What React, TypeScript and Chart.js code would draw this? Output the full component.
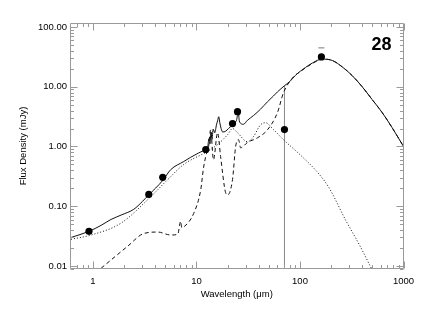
import { useEffect, useRef } from 'react';
import { Chart, registerables } from 'chart.js';

Chart.register(...registerables);

// Total model (solid)
const TOTAL_WAVE = [0.614, 0.915, 1.2, 1.49, 1.9, 2.48, 3.0, 3.46, 4.72, 5.64, 7.53, 8.79, 10.5, 12.3, 12.8, 13.2, 13.5, 13.8, 14.1, 14.5, 15.0, 15.6, 16.0, 16.4, 16.8, 17.3, 17.9, 19.1, 20.4, 22.3, 23.3, 24.3, 24.9, 25.4, 25.9, 26.7, 28.4, 31.1, 35.6, 41.5, 48.5, 55.4, 60.6, 70.8, 80, 90.3, 113, 132, 164, 205, 256, 320, 399, 498, 622, 776, 1000];
const TOTAL_FLUX = [0.030, 0.038, 0.048, 0.060, 0.072, 0.089, 0.12, 0.155, 0.27, 0.41, 0.56, 0.66, 0.78, 0.89, 0.95, 1.35, 1.1, 1.75, 1.3, 1.95, 1.7, 2.3, 2.7, 3.15, 2.5, 2.0, 1.75, 1.8, 2.0, 2.3, 2.5, 2.7, 3.3, 3.7, 2.7, 2.45, 2.35, 2.75, 3.3, 4.2, 5.6, 7.0, 8.2, 10.4, 12.3, 15.5, 21, 25, 29, 27.5, 21.5, 15.3, 10, 6.1, 3.7, 2.07, 1.0];

// Dust component (dashed)
const DUST_WAVE = [1.2, 2.17, 3.10, 4.23, 5.64, 6.59, 7.04, 7.2, 7.53, 9.40, 11.0, 11.7, 12.8, 13.1, 13.7, 14.6, 16.0, 17.1, 19.1, 20.0, 22.3, 23.9, 25.5, 26.7, 31.1, 38.9, 48.5, 60.6, 69.2, 84.5, 101, 132, 164, 205, 256, 320, 399, 498, 622, 776, 1000];
const DUST_FLUX = [0.0092, 0.0215, 0.035, 0.037, 0.033, 0.034, 0.056, 0.044, 0.045, 0.076, 0.19, 0.44, 0.9, 1.0, 1.9, 0.6, 1.7, 0.68, 0.17, 0.155, 0.28, 1.0, 1.3, 0.95, 1.17, 1.4, 1.9, 3.7, 7.9, 14, 18, 24.5, 29, 27.5, 21.5, 15.3, 10, 6.1, 3.7, 2.07, 1.0];

// Stellar / warm component (dotted)
const STAR_WAVE = [0.614, 0.957, 1.86, 3.62, 5.28, 7.53, 12.8, 16.0, 20.0, 22.3, 24.9, 31.1, 35.6, 41.5, 46.4, 55.4, 69.2, 101, 154, 192, 274, 373, 477, 520];
const STAR_FLUX = [0.028, 0.033, 0.052, 0.145, 0.28, 0.5, 0.83, 1.08, 1.58, 2.0, 1.7, 1.2, 1.47, 2.3, 2.5, 1.92, 1.3, 0.72, 0.34, 0.2, 0.06, 0.023, 0.01, 0.0075];

// Photometry
const PHOT_WAVE = [0.915, 3.46, 4.72, 12.3, 22.3, 24.9, 70.8, 161];
const PHOT_FLUX = [0.038, 0.158, 0.305, 0.89, 2.42, 3.83, 1.92, 31.6];

// Upper error cap at 160 micron
const CAP_WAVE = [161];
const CAP_FLUX = [44.7];

// Vertical line at 70 micron
const VLINE_WAVE = [70.8, 70.8];
const VLINE_FLUX = [0.005, 10.4];

const X_TICK_VALUES = [1, 10, 100, 1000];
const X_TICK_LABELS = ['1', '10', '100', '1000'];
const Y_TICK_VALUES = [0.01, 0.1, 1, 10, 100];
const Y_TICK_LABELS = ['0.01', '0.10', '1.00', '10.00', '100.00'];

const X_MIN = 0.614;
const X_MAX = 1000;
const Y_MIN = 0.00891;
const Y_MAX = 116.6;

const SOURCE_ID = '28';

const pts = (xs: number[], ys: number[]) => xs.map((x, i) => ({ x, y: ys[i] }));

const FONT = '"Liberation Sans", Arial, Helvetica, sans-serif';
const AXIS_COLOR = '#9a9a9a';
const LINE_COLOR = '#111';

function logMinorTicks(min: number, max: number) {
  const out: { v: number; major: boolean }[] = [];
  const start = Math.floor(Math.log10(min));
  const end = Math.ceil(Math.log10(max));
  for (let e = start; e <= end; e++) {
    for (let m = 1; m <= 9; m++) {
      const v = m * Math.pow(10, e);
      if (v >= min * 0.999 && v <= max * 1.001) out.push({ v, major: m === 1 });
    }
  }
  return out;
}

const framePlugin = {
  id: 'frame',
  afterDraw(chart: any) {
    const { ctx, chartArea } = chart;
    const { left, right, top, bottom } = chartArea;
    const xs = chart.scales.x;
    const ys = chart.scales.y;
    ctx.save();
    ctx.strokeStyle = AXIS_COLOR;
    ctx.lineWidth = 1;
    const L = Math.round(left) + 0.5;
    const R = Math.round(right) - 0.5;
    const T = Math.round(top) + 0.5;
    const B = Math.round(bottom) - 0.5;
    ctx.beginPath();
    ctx.rect(L, T, R - L, B - T);
    ctx.stroke();
    ctx.beginPath();
    for (const t of logMinorTicks(X_MIN, X_MAX)) {
      const p = Math.round(xs.getPixelForValue(t.v)) + 0.5;
      const len = t.major ? 7 : 3.5;
      ctx.moveTo(p, B);
      ctx.lineTo(p, B - len);
      ctx.moveTo(p, T);
      ctx.lineTo(p, T + len);
    }
    for (const t of logMinorTicks(Y_MIN, Y_MAX)) {
      const p = Math.round(ys.getPixelForValue(t.v)) + 0.5;
      const len = t.major ? 7 : 3.5;
      ctx.moveTo(L, p);
      ctx.lineTo(L + len, p);
      ctx.moveTo(R, p);
      ctx.lineTo(R - len, p);
    }
    ctx.stroke();
    ctx.fillStyle = '#000';
    ctx.font = `bold 18px ${FONT}`;
    ctx.textAlign = 'center';
    ctx.textBaseline = 'middle';
    ctx.fillText(SOURCE_ID, 381.5, 45);
    ctx.restore();
  },
};

export default function App() {
  const ref = useRef<HTMLCanvasElement | null>(null);
  useEffect(() => {
    document.body.style.margin = '0';
    const canvas = ref.current;
    if (!canvas) return;
    const curve = {
      borderColor: LINE_COLOR,
      borderWidth: 1,
      pointRadius: 0,
      cubicInterpolationMode: 'monotone',
    };
    const chart = new Chart(canvas, {
      type: 'line',
      data: {
        datasets: [
          {
            label: 'photometry',
            data: pts(PHOT_WAVE, PHOT_FLUX),
            showLine: false,
            pointRadius: 3.6,
            pointBackgroundColor: '#000',
            pointBorderWidth: 0,
            order: 0,
          },
          {
            label: 'cap',
            data: pts(CAP_WAVE, CAP_FLUX),
            showLine: false,
            pointStyle: 'line',
            pointRadius: 3,
            pointBorderColor: '#777',
            pointBorderWidth: 1,
            order: 0,
          },
          { ...curve, label: 'total', data: pts(TOTAL_WAVE, TOTAL_FLUX), order: 1 },
          { ...curve, label: 'dust', data: pts(DUST_WAVE, DUST_FLUX), borderDash: [4, 3], order: 2 },
          { ...curve, label: 'star', data: pts(STAR_WAVE, STAR_FLUX), borderDash: [1, 2], order: 3 },
          {
            label: 'vline',
            data: pts(VLINE_WAVE, VLINE_FLUX),
            borderColor: '#888',
            borderWidth: 1,
            pointRadius: 0,
            order: 4,
          },
        ],
      },
      options: {
        animation: false,
        responsive: false,
        events: [],
        layout: { padding: { top: 23, right: 21.5, left: 0, bottom: 0 } },
        plugins: { legend: { display: false }, tooltip: { enabled: false }, title: { display: false } },
        scales: {
          x: {
            type: 'logarithmic',
            min: X_MIN,
            max: X_MAX,
            grid: { display: false, drawTicks: false },
            border: { display: false },
            afterBuildTicks: (axis: any) => {
              axis.ticks = X_TICK_VALUES.map((v) => ({ value: v }));
            },
            afterFit: (s: any) => {
              s.height = 45;
            },
            ticks: {
              autoSkip: false,
              maxRotation: 0,
              padding: 7,
              color: '#000',
              font: { family: FONT, size: 9.5 },
              callback: (_v: any, i: number) => X_TICK_LABELS[i],
            },
            title: {
              display: true,
              text: 'Wavelength (μm)',
              color: '#000',
              font: { family: FONT, size: 9.5 },
              padding: { top: 0, bottom: 14 },
            },
          },
          y: {
            type: 'logarithmic',
            min: Y_MIN,
            max: Y_MAX,
            grid: { display: false, drawTicks: false },
            border: { display: false },
            afterBuildTicks: (axis: any) => {
              axis.ticks = Y_TICK_VALUES.map((v) => ({ value: v }));
            },
            afterFit: (s: any) => {
              s.width = 70;
            },
            ticks: {
              autoSkip: false,
              padding: 3,
              color: '#000',
              font: { family: FONT, size: 9.5 },
              callback: (_v: any, i: number) => Y_TICK_LABELS[i],
            },
            title: {
              display: true,
              text: 'Flux Density (mJy)',
              color: '#000',
              font: { family: FONT, size: 9.5 },
              padding: { top: 18, bottom: 0 },
            },
          },
        },
      },
      plugins: [framePlugin],
    } as any);
    return () => chart.destroy();
  }, []);
  return (
    <div style={{ width: 425, height: 314, background: '#fff' }}>
      <canvas ref={ref} width={425} height={314} style={{ display: 'block' }} />
    </div>
  );
}
